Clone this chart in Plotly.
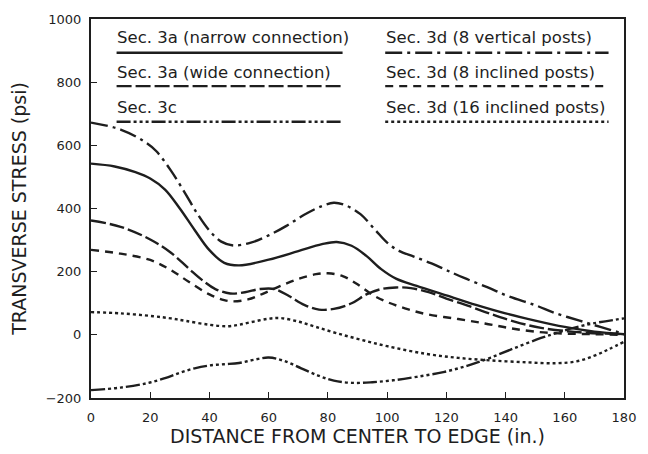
import plotly.graph_objects as go

# ---- data ----
x_3a_narrow = [0, 8, 15, 20, 25, 30, 35, 40, 45, 50, 60, 70, 78, 83, 88, 93, 98, 103, 110, 120, 130, 140, 150, 160, 170, 180]
y_3a_narrow = [542, 533, 515, 495, 460, 400, 332, 268, 228, 220, 238, 265, 287, 294, 282, 250, 208, 178, 155, 125, 95, 68, 45, 25, 10, 2]

x_3a_wide = [0, 10, 20, 27, 33, 38, 42, 47, 52, 57, 62, 67, 72, 77, 82, 88, 93, 98, 103, 108, 114, 120, 128, 135, 143, 152, 165, 180]
y_3a_wide = [362, 342, 302, 260, 210, 170, 145, 131, 135, 145, 145, 122, 95, 80, 82, 100, 128, 145, 150, 148, 135, 115, 90, 66, 42, 22, 8, 2]

x_3c = [0, 10, 19, 25, 30, 35, 40, 45, 50, 55, 60, 65, 71, 77, 82, 88, 95, 102, 110, 119, 127, 135, 143, 152, 158, 163, 170, 180]
y_3c = [-175, -167, -153, -137, -120, -106, -97, -93, -89, -79, -72, -82, -106, -130, -145, -152, -150, -144, -133, -118, -98, -72, -42, -10, 8, 22, 37, 52]

x_3d_vert = [0, 10, 18, 22, 27, 32, 36, 40, 44, 48, 54, 60, 66, 72, 78, 82, 86, 91, 96, 100, 104, 109, 115, 120, 126, 134, 141, 150, 157, 165, 172, 180]
y_3d_vert = [672, 650, 612, 582, 520, 445, 382, 330, 295, 283, 292, 315, 345, 380, 408, 418, 410, 382, 332, 292, 266, 248, 226, 205, 180, 150, 122, 94, 68, 45, 25, 3]

x_3d_incl8 = [0, 10, 20, 27, 33, 40, 45, 48, 53, 58, 64, 70, 76, 80, 85, 90, 95, 100, 106, 113, 124, 133, 141, 150, 160, 170, 180]
y_3d_incl8 = [269, 257, 237, 205, 168, 128, 110, 106, 112, 130, 155, 177, 192, 195, 186, 160, 127, 104, 84, 66, 50, 36, 22, 10, 4, 2, 0]

x_3d_incl16 = [0, 10, 21, 27, 32, 40, 46, 50, 55, 60, 64, 70, 76, 83, 91, 100, 113, 124, 135, 147, 157, 164, 170, 175, 180]
y_3d_incl16 = [72, 68, 59, 52, 44, 32, 27, 32, 42, 51, 53, 42, 25, 5, -15, -36, -60, -73, -81, -87, -90, -84, -66, -45, -22]

legend_labels = [
    "Sec. 3a (narrow connection)",
    "Sec. 3a (wide connection)",
    "Sec. 3c",
    "Sec. 3d (8 vertical posts)",
    "Sec. 3d (8 inclined posts)",
    "Sec. 3d (16 inclined posts)",
]

x_ticks = [0, 20, 40, 60, 80, 100, 120, 140, 160, 180]
y_ticks = [-200, 0, 200, 400, 600, 800, 1000]

# ---- styles ----
INK = "#1e1e1e"
FONT = "DejaVu Sans"
LW = 2.4
dashes = {
    "Sec. 3a (narrow connection)": "solid",
    "Sec. 3a (wide connection)": "15px,4px",
    "Sec. 3c": "14px,3px,3px,3px,3px,3px,3px,3px",
    "Sec. 3d (8 vertical posts)": "17px,5px,3px,5px",
    "Sec. 3d (8 inclined posts)": "8px,6px",
    "Sec. 3d (16 inclined posts)": "3px,3px",
}

series = [
    (legend_labels[0], x_3a_narrow, y_3a_narrow),
    (legend_labels[1], x_3a_wide, y_3a_wide),
    (legend_labels[2], x_3c, y_3c),
    (legend_labels[3], x_3d_vert, y_3d_vert),
    (legend_labels[4], x_3d_incl8, y_3d_incl8),
    (legend_labels[5], x_3d_incl16, y_3d_incl16),
]

fig = go.Figure()
for name, xs, ys in series:
    fig.add_trace(go.Scatter(
        x=xs, y=ys, mode="lines", name=name,
        line=dict(color=INK, width=LW, dash=dashes[name], shape="spline", smoothing=1.0),
        showlegend=False,
    ))

# in-plot legend: text with line sample underneath (paper coordinates)
legend_slots = [
    (0.045, 0.950, 0.048, 0.911, 0.472),
    (0.045, 0.860, 0.048, 0.823, 0.472),
    (0.045, 0.766, 0.048, 0.729, 0.472),
    (0.550, 0.950, 0.552, 0.911, 0.971),
    (0.550, 0.860, 0.552, 0.823, 0.971),
    (0.550, 0.766, 0.552, 0.729, 0.971),
]
for label, (tx, ty, lx0, ly, lx1) in zip(legend_labels, legend_slots):
    fig.add_annotation(
        x=tx, y=ty, xref="paper", yref="paper", text=label, showarrow=False,
        xanchor="left", yanchor="middle", font=dict(family=FONT, size=16.5, color=INK),
    )
    fig.add_shape(
        type="line", xref="paper", yref="paper", x0=lx0, x1=lx1, y0=ly, y1=ly,
        line=dict(color=INK, width=LW, dash=dashes[label]),
    )

axis_common = dict(
    showgrid=False, zeroline=False, showline=True, linecolor=INK, linewidth=2,
    mirror=True, ticks="inside", ticklen=6, tickwidth=1.2, tickcolor=INK,
    tickfont=dict(family=FONT, size=13, color=INK),
)
fig.update_xaxes(
    range=[0, 180], tickvals=x_ticks, ticklabelstandoff=6,
    title=dict(text="DISTANCE FROM CENTER TO EDGE (in.)", font=dict(family=FONT, size=19, color=INK), standoff=4),
    **axis_common,
)
fig.update_yaxes(
    range=[-200, 1000], tickvals=y_ticks, ticklabelstandoff=5,
    title=dict(text="TRANSVERSE STRESS (psi)", font=dict(family=FONT, size=19, color=INK), standoff=14),
    **axis_common,
)
fig.update_layout(
    width=648, height=454,
    margin=dict(l=91, r=12, t=14, b=56),
    paper_bgcolor="white", plot_bgcolor="white",
    showlegend=False,
)

fig.write_html("out.html")
